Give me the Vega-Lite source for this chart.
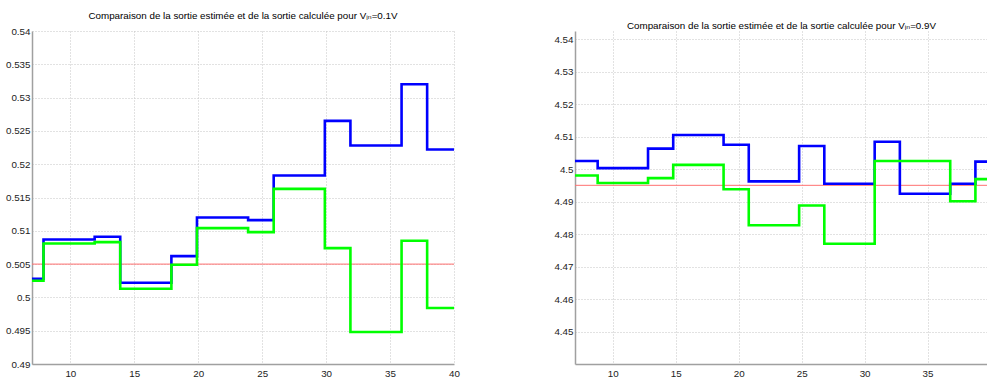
{
  "$schema": "https://vega.github.io/schema/vega-lite/v6.json",
  "padding": {"left": 5, "top": 11, "right": 0, "bottom": 0},
  "spacing": 93,
  "config": {
    "view": {"stroke": null},
    "font": "Liberation Sans",
    "axis": {
      "domainColor": "#a0a0a0",
      "domainWidth": 1.5,
      "gridColor": "#c4c4c4",
      "gridDash": [1, 2],
      "gridWidth": 1,
      "ticks": false,
      "tickSize": 0,
      "labelFont": "Liberation Sans",
      "labelFontSize": 9.8,
      "labelColor": "#222222",
      "labelFlush": false,
      "title": null
    },
    "axisY": {"labelPadding": 2},
    "axisX": {"labelPadding": 4},
    "title": {
      "font": "Liberation Sans, DejaVu Sans",
      "fontSize": 9.8,
      "fontWeight": "normal",
      "color": "#000000",
      "baseline": "alphabetic",
      "offset": 5,
      "anchor": "middle"
    }
  },
  "datasets": {
    "gauche": [
      {"serie": "estimee", "x": 7, "y": 0.5028},
      {"serie": "estimee", "x": 7.9, "y": 0.5087},
      {"serie": "estimee", "x": 11.9, "y": 0.5091},
      {"serie": "estimee", "x": 13.9, "y": 0.5022},
      {"serie": "estimee", "x": 17.9, "y": 0.5062},
      {"serie": "estimee", "x": 19.9, "y": 0.5120},
      {"serie": "estimee", "x": 23.9, "y": 0.5116},
      {"serie": "estimee", "x": 25.9, "y": 0.5183},
      {"serie": "estimee", "x": 29.9, "y": 0.5265},
      {"serie": "estimee", "x": 31.9, "y": 0.5228},
      {"serie": "estimee", "x": 35.9, "y": 0.5320},
      {"serie": "estimee", "x": 37.9, "y": 0.5222},
      {"serie": "estimee", "x": 40, "y": 0.5222},
      {"serie": "calculee", "x": 7, "y": 0.5025},
      {"serie": "calculee", "x": 7.9, "y": 0.5081},
      {"serie": "calculee", "x": 11.9, "y": 0.5083},
      {"serie": "calculee", "x": 13.9, "y": 0.5013},
      {"serie": "calculee", "x": 17.9, "y": 0.5049},
      {"serie": "calculee", "x": 19.9, "y": 0.5104},
      {"serie": "calculee", "x": 23.9, "y": 0.5098},
      {"serie": "calculee", "x": 25.9, "y": 0.5163},
      {"serie": "calculee", "x": 29.9, "y": 0.5074},
      {"serie": "calculee", "x": 31.9, "y": 0.4948},
      {"serie": "calculee", "x": 35.9, "y": 0.5085},
      {"serie": "calculee", "x": 37.9, "y": 0.4984},
      {"serie": "calculee", "x": 40, "y": 0.4984},
      {"serie": "reference", "x": 7, "y": 0.505},
      {"serie": "reference", "x": 40, "y": 0.505}
    ],
    "droite": [
      {"serie": "estimee", "x": 7, "y": 4.5025},
      {"serie": "estimee", "x": 8.8, "y": 4.5003},
      {"serie": "estimee", "x": 12.8, "y": 4.5063},
      {"serie": "estimee", "x": 14.8, "y": 4.5105},
      {"serie": "estimee", "x": 18.8, "y": 4.5075},
      {"serie": "estimee", "x": 20.8, "y": 4.4962},
      {"serie": "estimee", "x": 24.8, "y": 4.5071},
      {"serie": "estimee", "x": 26.8, "y": 4.4955},
      {"serie": "estimee", "x": 30.8, "y": 4.5084},
      {"serie": "estimee", "x": 32.8, "y": 4.4924},
      {"serie": "estimee", "x": 36.8, "y": 4.4955},
      {"serie": "estimee", "x": 38.8, "y": 4.5023},
      {"serie": "estimee", "x": 40, "y": 4.5023},
      {"serie": "calculee", "x": 7, "y": 4.4980},
      {"serie": "calculee", "x": 8.8, "y": 4.4957},
      {"serie": "calculee", "x": 12.8, "y": 4.4972},
      {"serie": "calculee", "x": 14.8, "y": 4.5013},
      {"serie": "calculee", "x": 18.8, "y": 4.4938},
      {"serie": "calculee", "x": 20.8, "y": 4.4827},
      {"serie": "calculee", "x": 24.8, "y": 4.4888},
      {"serie": "calculee", "x": 26.8, "y": 4.4770},
      {"serie": "calculee", "x": 30.8, "y": 4.5025},
      {"serie": "calculee", "x": 36.8, "y": 4.4901},
      {"serie": "calculee", "x": 38.8, "y": 4.4969},
      {"serie": "calculee", "x": 40, "y": 4.4969},
      {"serie": "reference", "x": 7, "y": 4.495},
      {"serie": "reference", "x": 40, "y": 4.495}
    ]
  },
  "hconcat": [
    {
      "width": 422,
      "height": 333,
      "title": {"text": "Comparaison de la sortie estimée et de la sortie calculée pour Vᵢₙ=0.1V"},
      "data": {"name": "gauche"},
      "encoding": {
        "x": {"field": "x", "type": "quantitative", "scale": {"domain": [7, 40], "nice": false, "zero": false},
              "axis": {"values": [10, 15, 20, 25, 30, 35, 40]}},
        "y": {"field": "y", "type": "quantitative", "scale": {"domain": [0.49, 0.54], "nice": false, "zero": false},
              "axis": {"values": [0.49, 0.495, 0.5, 0.505, 0.51, 0.515, 0.52, 0.525, 0.53, 0.535, 0.54], "format": "~g"}}
      },
      "layer": [
        {"transform": [{"filter": "datum.serie === 'reference'"}], "mark": {"type": "line", "color": "#ff7070", "strokeWidth": 1, "clip": true}},
        {"transform": [{"filter": "datum.serie === 'estimee'"}], "mark": {"type": "line", "color": "#0000ff", "strokeWidth": 2.6, "interpolate": "step-after", "clip": true}},
        {"transform": [{"filter": "datum.serie === 'calculee'"}], "mark": {"type": "line", "color": "#00ff00", "strokeWidth": 2.6, "interpolate": "step-after", "clip": true}}
      ]
    },
    {
      "width": 413,
      "height": 333,
      "title": {"text": "Comparaison de la sortie estimée et de la sortie calculée pour Vᵢₙ=0.9V", "offset": 0},
      "data": {"name": "droite"},
      "encoding": {
        "x": {"field": "x", "type": "quantitative", "scale": {"domain": [7, 39.8], "nice": false, "zero": false},
              "axis": {"values": [10, 15, 20, 25, 30, 35]}},
        "y": {"field": "y", "type": "quantitative", "scale": {"domain": [4.44, 4.5425], "nice": false, "zero": false},
              "axis": {"values": [4.45, 4.46, 4.47, 4.48, 4.49, 4.5, 4.51, 4.52, 4.53, 4.54], "format": "~g"}}
      },
      "layer": [
        {"transform": [{"filter": "datum.serie === 'reference'"}], "mark": {"type": "line", "color": "#ff7070", "strokeWidth": 1, "clip": true}},
        {"transform": [{"filter": "datum.serie === 'estimee'"}], "mark": {"type": "line", "color": "#0000ff", "strokeWidth": 2.6, "interpolate": "step-after", "clip": true}},
        {"transform": [{"filter": "datum.serie === 'calculee'"}], "mark": {"type": "line", "color": "#00ff00", "strokeWidth": 2.6, "interpolate": "step-after", "clip": true}}
      ]
    }
  ]
}
